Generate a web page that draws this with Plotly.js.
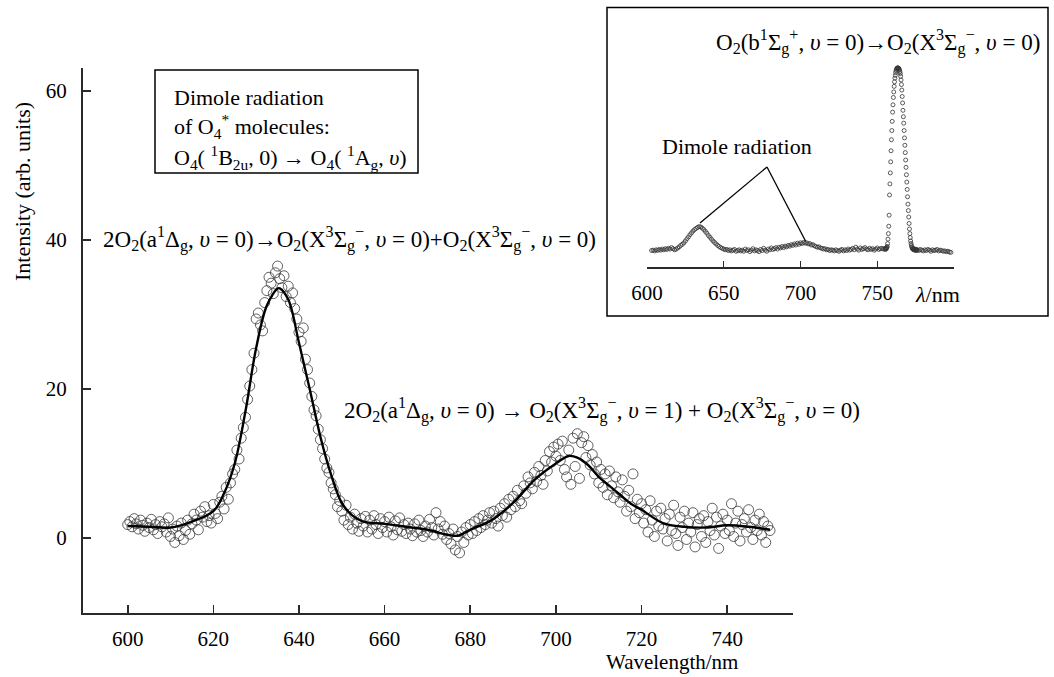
<!DOCTYPE html>
<html><head><meta charset="utf-8">
<script src="https://cdn.plot.ly/plotly-3.0.1.min.js"></script>
<style>html,body{margin:0;padding:0;background:#fff}#chart{width:1054px;height:677px}</style>
</head><body><div id="chart"></div>
<script>
// ---- main spectrum: measured points (wavelength grid 600..750 nm, 0.5 nm step)
const mainStart = 600, mainStep = 0.5;
const mainY = [
1.8,2.2,1.5,2.6,1.9,1.2,2.4,1.7,0.9,2.0,
1.4,2.5,1.1,1.8,0.6,2.2,1.5,1.9,0.8,2.7,
0.2,1.2,-0.6,1.6,0.3,2.0,-0.2,1.0,2.4,0.5,
1.9,3.2,2.4,1.1,3.6,2.8,4.2,2.2,3.0,2.0,
4.5,3.3,2.6,4.8,5.6,3.9,6.8,5.2,7.4,8.6,
9.2,11.8,10.6,13.4,14.8,16.2,18.6,20.4,22.6,24.8,
29.4,30.2,28.6,27.8,31.6,33.2,35.0,34.2,32.8,35.6,
36.5,34.8,33.6,35.2,32.4,33.8,31.6,32.9,30.8,29.4,
27.6,26.4,28.2,24.0,22.6,20.8,19.0,17.2,16.4,14.6,
13.2,12.0,10.6,9.4,8.8,7.4,6.6,5.8,4.2,5.0,
3.6,2.4,4.4,1.8,2.8,1.2,3.2,2.0,0.9,2.6,
1.6,2.9,0.8,2.4,1.2,3.0,1.8,0.6,2.6,1.4,
2.2,0.8,2.8,1.5,0.4,2.3,1.1,2.7,0.9,1.8,
0.6,2.0,1.2,0.3,1.9,0.8,2.4,1.0,0.2,1.6,
0.8,2.5,1.4,0.4,3.4,1.2,2.2,0.5,1.6,-0.2,
0.6,-0.8,1.2,-1.6,0.2,-2.0,0.8,-0.6,1.4,0.4,
1.8,0.6,2.2,1.0,2.6,1.4,3.0,1.8,2.4,3.4,
2.0,3.6,2.6,1.6,4.0,3.0,4.6,2.8,5.2,3.8,
5.6,4.2,6.4,5.0,4.6,7.0,6.0,8.2,7.4,6.6,
8.8,7.6,9.6,8.4,7.2,10.4,9.0,11.6,10.2,12.2,
11.0,12.6,10.4,13.0,9.2,8.2,11.8,7.2,13.4,9.6,
14.0,8.0,12.8,13.6,10.8,12.4,9.8,11.2,8.6,10.2,
7.4,9.2,6.8,8.6,5.8,9.0,7.0,5.4,8.2,6.2,
4.8,7.8,5.6,3.6,6.4,4.2,8.6,2.6,5.2,3.4,
4.6,2.0,3.8,0.8,5.0,2.4,0.2,3.6,1.6,4.0,
1.2,2.6,-0.4,3.2,1.0,4.4,0.6,-1.0,2.8,1.4,
3.6,-0.2,2.0,0.8,3.4,-1.2,1.8,2.6,0.2,3.0,
-0.6,2.2,1.0,4.0,0.4,2.8,-1.4,1.6,3.2,0.6,
2.4,1.0,4.6,0.2,2.0,3.6,-0.4,1.8,2.6,0.8,
3.8,1.4,-0.2,2.4,1.0,3.2,0.4,2.2,-0.6,1.6,
1.0
];
// ---- main spectrum: smooth fitted curve
const fitX = [600,605,610,615,620,622.5,625,627.5,630,632.5,635,635.5,637.5,640,642.5,645,647.5,650,652.5,655,660,665,670,675,677,680,685,690,695,700,703,705,707.5,710,712.5,715,717.5,720,725,730,735,740,745,750];
const fitY = [1.6,1.5,1.4,2.2,3.6,6.0,10.0,17.0,25.5,31.2,33.5,33.5,32.0,26.2,20.0,13.6,8.5,4.7,3.0,2.2,1.9,1.5,1.1,0.4,0.3,1.1,2.4,4.7,7.8,10.0,11.0,10.8,9.8,8.2,7.0,5.8,4.6,3.8,2.0,1.5,1.4,1.7,1.5,1.1];

// ---- inset spectrum (arb. units), three wavelength segments
const insetA_start = 603, insetA_step = 1;
const insetA_Y = [
0.8,1.0,0.6,1.2,0.9,1.4,1.0,1.6,1.2,1.8,
1.4,2.0,1.6,2.4,1.8,1.2,1.6,2.2,2.8,3.6,
4.2,5.0,6.0,7.2,8.2,9.4,10.4,11.4,12.2,12.8,
13.4,13.8,13.6,13.0,12.2,11.2,10.2,9.0,8.0,7.0,
6.0,5.2,4.4,3.6,3.0,2.4,2.0,1.6,1.2,1.4,
0.8,1.2,0.6,1.0,1.4,0.4,0.8,1.2,0.6,1.0,
0.4,1.6,0.8,1.2,0.2,1.0,1.8,0.6,1.2,0.8,
0.2,1.4,0.8,2.0,1.0,0.4,1.6,1.2,2.2,1.4,
1.8,2.4,1.6,2.6,2.2,3.0,2.4,3.2,2.8,3.6,
3.2,4.0,3.6,4.4,3.8,4.8,4.2,5.0,4.6,5.2,
4.8,5.0,4.4,4.6,3.8,4.0,3.4,3.0,2.6,2.8,
2.2,2.0,1.6,1.8,1.2,1.4,0.8,1.2,1.0,0.6,
1.2,0.8,0.4,1.0,1.4,0.6,1.2,0.8,1.6,1.0,
1.4,2.0,1.2,2.6,1.6,1.0,2.2,1.4,1.8,2.4,
1.6,1.2,2.0,1.4,1.8,1.0,1.6,2.2,1.4,1.8,
2.0,1.6
];
const insetB_start = 755, insetB_step = 0.25;
const insetB_Y = [
1.8,1.4,2.0,1.6,2.2,2.4,3.0,4.6,7.0,10.0,14.0,20.0,
31.0,37.0,43.0,49.0,55.0,61.0,66.0,71.0,76.0,80.0,84.0,87.0,
90.0,92.5,94.5,96.0,97.5,98.5,99.2,99.7,100.0,100.0,100.0,99.9,
99.8,99.4,98.8,98.0,97.0,95.5,93.5,91.0,88.0,84.5,81.0,77.0,
73.5,70.0,66.0,62.0,58.0,54.0,50.0,46.0,42.0,38.0,34.0,30.0,
26.0,22.5,19.0,15.5,12.5,10.0,7.8,6.0,4.6,3.6,2.8,2.2,
1.8,1.6,1.4,1.8,1.2,1.6,1.0,1.4,1.2,0.8,1.4,1.0
];
const insetC_start = 776, insetC_step = 1;
const insetC_Y = [1.2,0.8,1.4,1.0,0.6,1.2,0.8,1.4,1.0,0.4,1.2,0.8,1.0,1.4,0.6,1.0,0.8,0.4,0.6,0.2,0.4,0.0,-0.2];

// ---- tick labels
const mainXTicks = [600,620,640,660,680,700,720,740];
const mainYTicks = [0,20,40,60];
const insetXTicks = [600,650,700,750,800];
const insetXTickText = ['600','650','700','750',''];

// ---- build grids
function grid(start, step, n){ const a=[]; for(let i=0;i<n;i++) a.push(+(start+i*step).toFixed(2)); return a; }
const mainX = grid(mainStart, mainStep, mainY.length);
const insetX = grid(insetA_start, insetA_step, insetA_Y.length)
  .concat(grid(insetB_start, insetB_step, insetB_Y.length))
  .concat(grid(insetC_start, insetC_step, insetC_Y.length));
const insetY = insetA_Y.concat(insetB_Y, insetC_Y);

// ---- geometry helpers (pixel -> paper)
const W=1054, H=677, ML=83, MR=40, MT=8, MB=64;
const PW = W-ML-MR, PH = H-MT-MB;
const P = x => (x-ML)/PW;
const Q = y => (H-MB-y)/PH;

const FONT = 'Liberation Serif, Times New Roman, serif';
const AX = '#2a2a2a';

const traces = [
  {x: mainX, y: mainY, type:'scatter', mode:'markers', xaxis:'x', yaxis:'y',
   marker:{symbol:'circle-open', size:10, color:'#3a3a3a', line:{width:0.8}}, hoverinfo:'skip'},
  {x: fitX, y: fitY, type:'scatter', mode:'lines', xaxis:'x', yaxis:'y',
   line:{shape:'spline', smoothing:1, color:'#000', width:2.4}, hoverinfo:'skip'},
  {x: insetX, y: insetY, type:'scatter', mode:'markers', xaxis:'x2', yaxis:'y2',
   marker:{symbol:'circle-open', size:4, color:'#333', line:{width:0.8}}, hoverinfo:'skip'}
];

const sub = s => '<sub>'+s+'</sub>';
const sup = s => '<sup>'+s+'</sup>';
const X3Sg = 'X'+sup('3')+'Σ'+sub('g')+sup('−');
const ann1 = '2O'+sub('2')+'(a'+sup('1')+'Δ'+sub('g')+', <i>υ</i> = 0)→O'+sub('2')+'('+X3Sg+', <i>υ</i> = 0)+O'+sub('2')+'('+X3Sg+', <i>υ</i> = 0)';
const ann2 = '2O'+sub('2')+'(a'+sup('1')+'Δ'+sub('g')+', <i>υ</i> = 0) → O'+sub('2')+'('+X3Sg+', <i>υ</i> = 1) + O'+sub('2')+'('+X3Sg+', <i>υ</i> = 0)';
const ann3 = 'O'+sub('2')+'(b'+sup('1')+'Σ'+sub('g')+sup('+')+', <i>υ</i> = 0)→O'+sub('2')+'('+X3Sg+', <i>υ</i> = 0)';

const tf = {family:FONT, size:22, color:'#000'};
const tfL = {family:FONT, size:23, color:'#000'};
function A(text, x, y, extra){ return Object.assign({text, x:P(x), y:Q(y), xref:'paper', yref:'paper', showarrow:false, font:tf, xanchor:'center', yanchor:'middle'}, extra||{}); }

const tickF = {family:FONT, size:21, color:'#000'};
const layout = {
  width:W, height:H, paper_bgcolor:'#fff', plot_bgcolor:'rgba(0,0,0,0)',
  margin:{l:ML, r:MR, t:MT, b:MB}, showlegend:false,
  font:{family:FONT, size:21, color:'#000'},
  xaxis:{domain:[0, P(792.7)], range:[589.56, 755.3], anchor:'y',
    showline:true, linecolor:AX, linewidth:2, showgrid:false, zeroline:false,
    ticks:'inside', ticklen:8, tickwidth:1.6, tickcolor:AX,
    tickvals:mainXTicks, ticktext:mainXTicks.map(String), ticklabelstandoff:6,
    tickfont:tickF},
  yaxis:{domain:[0, Q(68)], range:[-10.07, 63.09], anchor:'x',
    showline:true, linecolor:AX, linewidth:2, showgrid:false, zeroline:false,
    ticks:'inside', ticklen:8, tickwidth:1.6, tickcolor:AX,
    tickvals:mainYTicks, ticktext:mainYTicks.map(String), ticklabelstandoff:10,
    tickfont:tickF},
  xaxis2:{domain:[P(647), P(954)], range:[600, 800], anchor:'y2',
    showline:true, linecolor:AX, linewidth:1.6, showgrid:false, zeroline:false,
    ticks:'inside', ticklen:6, tickwidth:1.4, tickcolor:AX,
    tickvals:insetXTicks, ticktext:insetXTickText, ticklabelstandoff:6,
    tickfont:tickF},
  yaxis2:{domain:[Q(267), Q(60)], range:[-8.15, 104.35], anchor:'x2', visible:false},
  shapes:[
    {type:'rect', xref:'paper', yref:'paper', x0:P(155), x1:P(418), y0:Q(173), y1:Q(70), line:{color:'#000', width:1.5}},
    {type:'rect', xref:'paper', yref:'paper', x0:P(607), x1:P(1048), y0:Q(316), y1:Q(7.5), line:{color:'#000', width:1.5}},
    {type:'line', xref:'paper', yref:'paper', x0:P(767), y0:Q(167), x1:P(700), y1:Q(223), line:{color:'#000', width:1.3}},
    {type:'line', xref:'paper', yref:'paper', x0:P(767), y0:Q(167), x1:P(805.5), y1:Q(241), line:{color:'#000', width:1.3}}
  ],
  annotations:[
    A('Dimole radiation', 172, 97, {xanchor:'left'}),
    A('of O'+sub('4')+sup('*')+' molecules:', 172, 126, {xanchor:'left'}),
    A('O'+sub('4')+'( '+sup('1')+'B'+sub('2u')+', 0) → O'+sub('4')+'( '+sup('1')+'A'+sub('g')+', <i>υ</i>)', 172, 157, {xanchor:'left'}),
    A(ann1, 349, 239, {font:tfL}),
    A(ann2, 602, 410, {font:tfL}),
    A(ann3, 878, 42, {font:tfL}),
    A('Dimole radiation', 737, 147),
    A('<i>λ</i>/nm', 937, 294),
    A('Wavelength/nm', 672, 662, {font:{family:FONT, size:21, color:'#000'}}),
    A('Intensity (arb. units)', 22, 192, {textangle:-90})
  ]
};

Plotly.newPlot('chart', traces, layout, {displayModeBar:false, staticPlot:true});
</script>
</body></html>
